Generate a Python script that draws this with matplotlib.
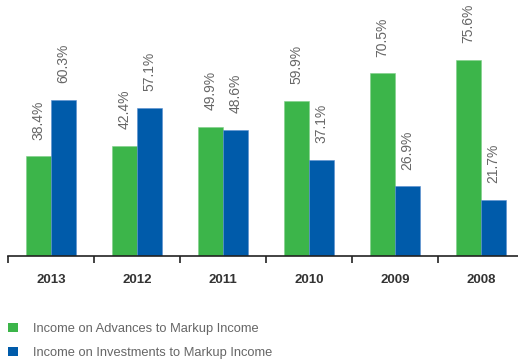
import matplotlib
matplotlib.use("Agg")
import matplotlib.pyplot as plt
import numpy as np
from matplotlib.patches import Patch

years = ["2013", "2012", "2011", "2010", "2009", "2008"]
advances = [38.4, 42.4, 49.9, 59.9, 70.5, 75.6]
investments = [60.3, 57.1, 48.6, 37.1, 26.9, 21.7]
series_names = ["Income on Advances to Markup Income",
                "Income on Investments to Markup Income"]

GREEN = "#3cb54a"
BLUE = "#005baa"
LABEL_GRAY = "#666666"

plt.rcParams["font.family"] = ["Liberation Sans", "DejaVu Sans"]

fig = plt.figure(figsize=(5.18, 3.63), dpi=100)
W, H = 518, 363
# axes spans group edges; the last group runs a bit past the right border
ax = fig.add_axes([8 / W, (H - 256) / H, 516 / W, 256 / H])

x = np.arange(len(years))
bw = 0.29
b1 = ax.bar(x - bw / 2, advances, bw, color=GREEN, edgecolor="#7fd089", linewidth=0.4)
b2 = ax.bar(x + bw / 2, investments, bw, color=BLUE, edgecolor="#5b8fd0", linewidth=0.4)

for bars, vals in ((b1, advances), (b2, investments)):
    for rect, v in zip(bars, vals):
        ax.annotate(f"{v:.1f}%", (rect.get_x() + rect.get_width() / 2, v),
                    xytext=(0, 12), textcoords="offset points",
                    rotation=90, ha="center", va="bottom",
                    fontsize=10, color=LABEL_GRAY)

ax.set_xlim(-0.5, len(years) - 0.5)
ax.set_ylim(0, 256 / 2.593)

for s in ("top", "right", "left"):
    ax.spines[s].set_visible(False)
ax.spines["bottom"].set_linewidth(1.2)
ax.spines["bottom"].set_color("#222222")
ax.set_yticks([])

ax.set_xticks(np.arange(len(years) + 1) - 0.5)
ax.set_xticklabels([])
ax.set_xticks(x, minor=True)
ax.set_xticklabels(years, minor=True, fontsize=9.5, fontweight="bold", color="#333333")
ax.tick_params(axis="x", which="major", direction="out", length=5, width=1.2, color="#222222")
ax.tick_params(axis="x", which="minor", length=0, pad=13)

handles = [Patch(facecolor=GREEN, edgecolor="none"), Patch(facecolor=BLUE, edgecolor="none")]
fig.legend(handles, series_names, loc="upper left", bbox_to_anchor=(4 / W, 1 - 319 / H),
           frameon=False, fontsize=9.3, labelcolor=LABEL_GRAY,
           handlelength=0.75, handleheight=0.75, handletextpad=1.2,
           labelspacing=0.9, borderaxespad=0, borderpad=0.3)

fig.savefig("out.png", dpi=100)
